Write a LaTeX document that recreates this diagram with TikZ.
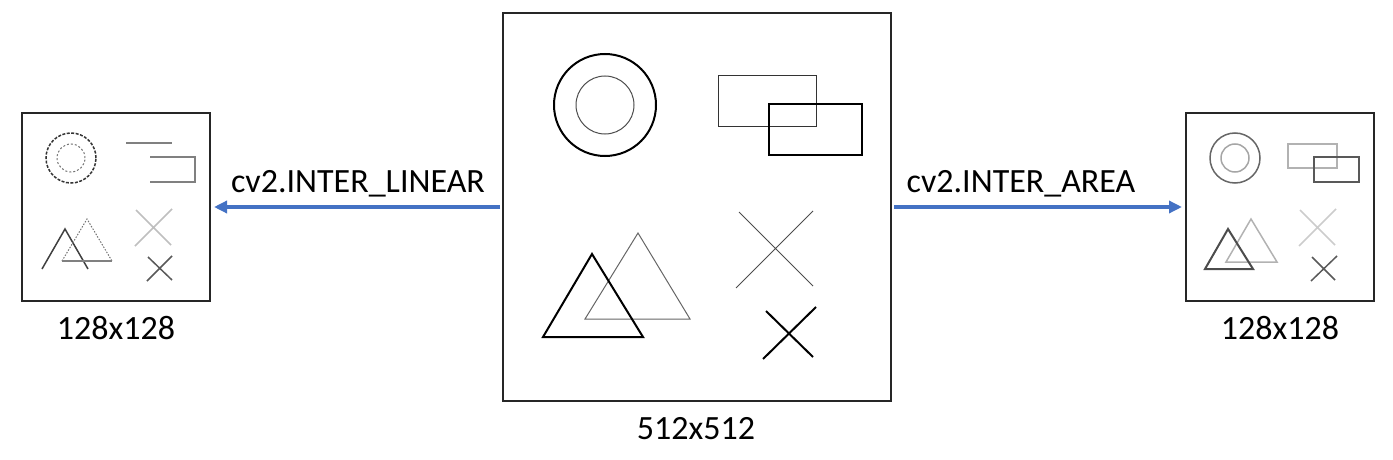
\documentclass[tikz,border=0pt]{standalone}
\usepackage{fontspec}
\setmainfont{Carlito}
\usetikzlibrary{arrows.meta}
\definecolor{flowblue}{HTML}{4472C4}
\tikzset{
  panel/.style={draw=black!85, line width=2pt, minimum size=#1, inner sep=0pt},
  flow/.style={draw=flowblue, line width=4.3pt, -{Triangle[length=13pt,width=12pt]},
    shorten <=2pt, shorten >=3pt},
  caption/.style={anchor=base, inner sep=0pt, font=\fontsize{34}{40}\selectfont},
  fineline/.style={line width=1pt},
  boldline/.style={line width=2pt},
}
\begin{document}
\begin{tikzpicture}[x=1pt,y=-1pt]
\useasboundingbox (0,0) rectangle (1393,460);

% the three images
\node[panel=188pt] (lsmall) at (116,207) {};
\node[panel=388pt] (big) at (697,207) {};
\node[panel=188pt] (rsmall) at (1280,207) {};

% 512x512 original
\draw[boldline] (605,105) circle[radius=51pt];
\draw[fineline, black!70] (605,105) circle[radius=29pt];
\draw[fineline, black!80] (718,76) rectangle (816,126);
\draw[boldline] (769,104) rectangle (862,155);
\draw[fineline, black!60] (638,233) -- (690,319) -- (585,319) -- cycle;
\draw[boldline] (592,254) -- (643,337) -- (543,337) -- cycle;
\draw[fineline, black!70] (739,212) -- (813,286) (813,211) -- (736,288);
\draw[boldline] (766,311) -- (813,357) (816,307) -- (763,359);

% 128x128, INTER_LINEAR
\draw[line width=1.5pt, black!80, dash pattern=on 3pt off 1.5pt] (71,158) circle[radius=25pt];
\draw[fineline, black!55, dash pattern=on 2pt off 2pt] (71,158) circle[radius=14pt];
\draw[line width=1.5pt, black!50] (126,143) -- (172,143);
\draw[line width=1.5pt, black!50] (150,157) -- (195,157) -- (195,182) -- (150,182);
\draw[line width=1.5pt, black!75] (42,269) -- (65,229) -- (88,269);
\draw[fineline, black!55, dash pattern=on 1.5pt off 1.5pt] (62,261) -- (87,219) -- (112,261);
\draw[line width=1.5pt, black!50] (62,261) -- (112,261);
\draw[line width=1.5pt, black!25] (136,210) -- (171,245) (172,209) -- (135,246);
\draw[line width=1.5pt, black!65] (148,257) -- (172,280) (172,256) -- (147,281);

% 128x128, INTER_AREA
\draw[line width=1.5pt, black!60] (1235,158) circle[radius=25pt];
\draw[line width=1.5pt, black!35] (1235,158) circle[radius=14pt];
\draw[line width=1.5pt, black!30] (1288,144) rectangle (1337,168);
\draw[line width=1.5pt, black!65] (1314,157) rectangle (1359,182);
\draw[line width=1.5pt, black!30] (1251,219) -- (1277,262) -- (1226,262) -- cycle;
\draw[line width=2pt, black!70] (1228,229) -- (1253,269) -- (1205,269) -- cycle;
\draw[line width=1.5pt, black!20] (1300,210) -- (1335,245) (1336,209) -- (1299,246);
\draw[line width=1.5pt, black!65] (1312,257) -- (1335,280) (1337,256) -- (1311,281);

% resize arrows
\draw[flow] (big.west) -- (lsmall.east);
\draw[flow] (big.east) -- (rsmall.west);
\node[caption] (linear) at (358,192) {cv2.INTER\_LINEAR};
\node[caption] (area) at (1021,192) {cv2.INTER\_AREA};

% sizes
\node[caption] (lsize) at (116,339) {128x128};
\node[caption] (bsize) at (696,439) {512x512};
\node[caption] (rsize) at (1280,339) {128x128};
\end{tikzpicture}
\end{document}
